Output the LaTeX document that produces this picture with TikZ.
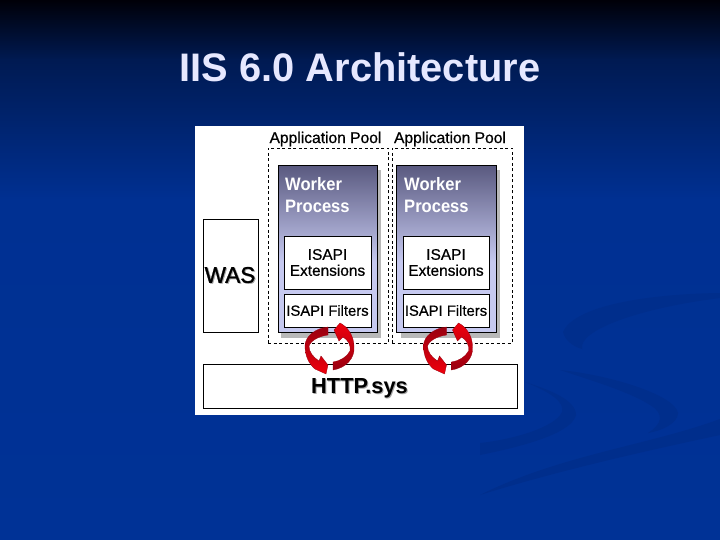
\documentclass[tikz,border=0pt]{standalone}
\usepackage{fontspec}
\setmainfont{Liberation Sans}
\newfontfamily\semib[FakeBold=0.6]{Liberation Sans}
\newfontfamily\medb[FakeBold=1.2]{Liberation Sans}
\newfontfamily\narrowb[FakeStretch=0.92]{Liberation Sans}
\definecolor{bgtop}{HTML}{000008}
\definecolor{bgmid}{HTML}{001A52}
\definecolor{bgbot}{HTML}{003092}
\definecolor{bglow}{HTML}{003296}
\definecolor{swoosh}{HTML}{002E8C}
\definecolor{titlecol}{HTML}{E6E8FF}
\definecolor{wtop}{HTML}{5A5A80}
\definecolor{wbot}{HTML}{C6C9F0}
\definecolor{arrowred}{HTML}{F0000C}
\definecolor{arrowdark}{HTML}{980010}
\tikzset{
  box/.style={draw=black,line width=0.8pt,fill=white,inner sep=0pt,align=center},
  pool/.style={draw=black,line width=0.7pt,dash pattern=on 3pt off 2.5pt},
  plabel/.style={font=\semib\fontsize{15.6}{18}\selectfont,text=black,inner sep=0pt},
  isapi/.style={font=\semib\fontsize{15.4}{16}\selectfont,text=black,inner sep=0pt,align=center},
  filt/.style={font=\semib\fontsize{14.8}{17}\selectfont,text=black,inner sep=0pt,align=center},
  wlabel/.style={font=\narrowb\bfseries\fontsize{18}{22}\selectfont,text=white,inner sep=0pt,align=left},
  wshadow/.style={fill=black!28},
  darktail/.style={top color=arrowdark,middle color=arrowred,bottom color=arrowred,draw=arrowdark,line width=0.3pt},
  darktailb/.style={bottom color=arrowdark,middle color=arrowred,top color=arrowred,draw=arrowdark,line width=0.3pt},
}
\begin{document}
\begin{tikzpicture}[x=1pt,y=-1pt]
\useasboundingbox (0,0) rectangle (720,540);
% background
\fill[top color=bgtop,bottom color=bgmid] (0,0) rectangle (720,60);
\fill[top color=bgmid,bottom color=bgbot] (0,60) rectangle (720,200);
\fill[top color=bgbot,bottom color=bglow] (0,200) rectangle (720,540);
% swooshes
\fill[swoosh] (720,293) .. controls (650,294) and (575,305) .. (563,332) .. controls (565,340) and (572,346) .. (582,349) .. controls (578,330) and (640,308) .. (720,298) -- cycle;
\fill[swoosh] (480,455) .. controls (530,445) and (572,432) .. (576,415) .. controls (576,400) and (550,390) .. (525,382) .. controls (550,392) and (565,402) .. (562,412) .. controls (555,428) and (510,440) .. (480,443) -- cycle;
\fill[swoosh] (560,370) .. controls (610,375) and (675,395) .. (678,413) .. controls (678,422) and (665,430) .. (648,433) .. controls (662,424) and (665,414) .. (650,405) .. controls (630,392) and (590,380) .. (560,370) -- cycle;
\fill[swoosh] (480,495) .. controls (560,455) and (650,445) .. (720,419) -- (720,435) .. controls (650,450) and (560,470) .. (480,495) -- cycle;
% title
\node[font=\bfseries\fontsize{39.8}{44}\selectfont,text=titlecol,inner sep=0pt] (title) at (360,67.5) {IIS 6.0 Architecture};
% panel
\node[fill=white,inner sep=0pt,minimum width=329pt,minimum height=289pt] (panel) at (359.5,270.5) {};
% pools
\node[pool,minimum width=120pt,minimum height=195pt,inner sep=0pt] (pool1) at (328,245.5) {};
\node[pool,minimum width=120pt,minimum height=195pt,inner sep=0pt] (pool2) at (452,245.5) {};
\node[plabel] (pl1) at (325.5,139) {Application Pool};
\node[plabel] (pl2) at (450,139) {Application Pool};
% worker shadows
\fill[wshadow] (281,170) rectangle (381,338);
\fill[wshadow] (401,170) rectangle (500,338);
% workers
\node[inner sep=0pt,minimum width=98pt,minimum height=166pt] (w1) at (328,249) {};
\node[inner sep=0pt,minimum width=99pt,minimum height=166pt] (w2) at (446.5,249) {};
\fill[top color=wtop,bottom color=wbot] (279,166) rectangle (377,262);
\fill[wbot] (279,262) rectangle (377,332);
\fill[top color=wtop,bottom color=wbot] (397,166) rectangle (496,262);
\fill[wbot] (397,262) rectangle (496,332);
\draw[line width=0.8pt] (w1.north west) rectangle (w1.south east);
\draw[line width=0.8pt] (w2.north west) rectangle (w2.south east);
\node[wlabel,anchor=north west] (wl1) at (285,177) {Worker\\[0pt]Process};
\node[wlabel,anchor=north west] (wl2) at (404,177) {Worker\\[0pt]Process};
% isapi
\node[box,isapi,minimum width=87pt,minimum height=53pt] (e1) at (327.5,262.5) {ISAPI\\Extensions};
\node[box,isapi,minimum width=86pt,minimum height=53pt] (e2) at (446,262.5) {ISAPI\\Extensions};
\node[box,filt,minimum width=87pt,minimum height=33pt] (f1) at (327.5,310.5) {ISAPI Filters};
\node[box,filt,minimum width=86pt,minimum height=33pt] (f2) at (446,310.5) {ISAPI Filters};
% was, http
\node[box,minimum width=55pt,minimum height=113pt] (was) at (230.5,275.5) {};
\node[font=\medb\fontsize{22.6}{24}\selectfont,text=black!35,inner sep=0pt] at (231,275.8) {WAS};
\node[font=\medb\fontsize{22.6}{24}\selectfont,text=black,inner sep=0pt] (waslabel) at (230,275) {WAS};
\node[box,minimum width=314pt,minimum height=44pt] (http) at (360,386) {};
\node[font=\bfseries\fontsize{21.8}{24}\selectfont,text=black!35,inner sep=0pt] at (360.5,389) {HTTP.sys};
\node[font=\bfseries\fontsize{21.8}{24}\selectfont,text=black,inner sep=0pt] (httplabel) at (359.5,388) {HTTP.sys};
% rotating arrows
\foreach \cx in {330,448.5}{
  \begin{scope}[shift={(\cx,348)}]
    \shade[darktail] (-2,-21) .. controls (-14,-20) and (-25,-12) .. (-25,-2) .. controls (-25,8) and (-21,16) .. (-15,21) -- (-4,26) -- (-2,17) -- (-9,8) -- (-11,13) .. controls (-17,9) and (-21,4) .. (-21,-2) .. controls (-19,-8) and (-10,-12) .. (-2,-13) -- cycle;
    \shade[darktailb] (3,22) .. controls (16,20) and (25,10) .. (24,-1) .. controls (24,-12) and (18,-21) .. (10,-25) -- (4,-18) -- (9,-7) -- (13,-11) .. controls (18,-8) and (21,-3) .. (20,3) .. controls (17,9) and (10,13) .. (3,14) -- cycle;
  \end{scope}
}
\end{tikzpicture}
\end{document}
